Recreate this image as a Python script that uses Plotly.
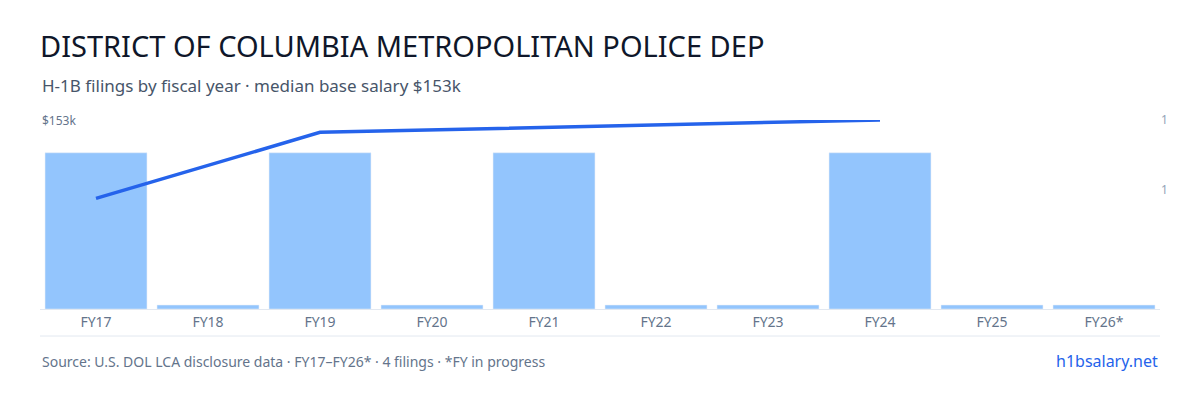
import plotly.graph_objects as go

years = ["FY17","FY18","FY19","FY20","FY21","FY22","FY23","FY24","FY25","FY26*"]
filings = [1,0,1,0,1,0,0,1,0,0]
sal_years = ["FY17","FY19","FY24"]
salaries = [89500,143000,153000]
sal_label = "$153k"

stub = 0.025
bar_vals = [v if v > 0 else stub for v in filings]

fig = go.Figure()
fig.add_bar(x=years, y=bar_vals, marker_color="#93c5fd", yaxis="y", hoverinfo="skip")
fig.add_scatter(x=sal_years, y=salaries, mode="lines", line=dict(color="#2563eb", width=3.5), yaxis="y2")

fig.update_layout(
    width=1200, height=400, showlegend=False, bargap=0.09,
    plot_bgcolor="white", paper_bgcolor="white",
    font=dict(family="Noto Sans", color="#64748b"),
    margin=dict(l=32, r=48, t=112, b=99),
    xaxis=dict(showgrid=False, tickfont=dict(size=14, color="#64748b"), ticks="",
               showline=True, linecolor="#e2e8f0"),
    yaxis=dict(range=[0,1.21], side="right", tickvals=[0.76,1.21], ticktext=["1","1"],
               showgrid=False, zeroline=False, tickfont=dict(size=12, color="#94a3b8")),
    yaxis2=dict(range=[0,153000], overlaying="y", side="left", showticklabels=False,
                showgrid=False, zeroline=False),
    title=dict(text="DISTRICT OF COLUMBIA METROPOLITAN POLICE DEP", x=32/1200, xanchor="left",
               y=1-39/400, yanchor="middle", font=dict(size=29, color="#0f172a")),
)
fig.add_annotation(text=sal_label, xref="paper", yref="y2", x=0, y=max(salaries), xanchor="left",
                   yanchor="middle", showarrow=False, font=dict(size=12, color="#64748b"))
fig.add_annotation(text="H-1B filings by fiscal year · median base salary $153k", xref="paper", yref="paper",
                   x=0, y=1+(120-86)/189, xanchor="left", yanchor="middle", showarrow=False,
                   font=dict(size=17, color="#475569"))
fig.add_shape(type="line", xref="paper", yref="paper", x0=0, x1=1, y0=-27/189, y1=-27/189,
              line=dict(color="#e2e8f0", width=1))
fig.add_annotation(text="Source: U.S. DOL LCA disclosure data · FY17–FY26* · 4 filings · *FY in progress",
                   xref="paper", yref="paper", x=0, y=-52/189, xanchor="left", yanchor="middle",
                   showarrow=False, font=dict(size=14, color="#64748b"))
fig.add_annotation(text="h1bsalary.net", xref="paper", yref="paper", x=1, y=-52/189, xanchor="right",
                   yanchor="middle", showarrow=False, font=dict(size=16, color="#2563eb"))
fig.write_html("out.html")
